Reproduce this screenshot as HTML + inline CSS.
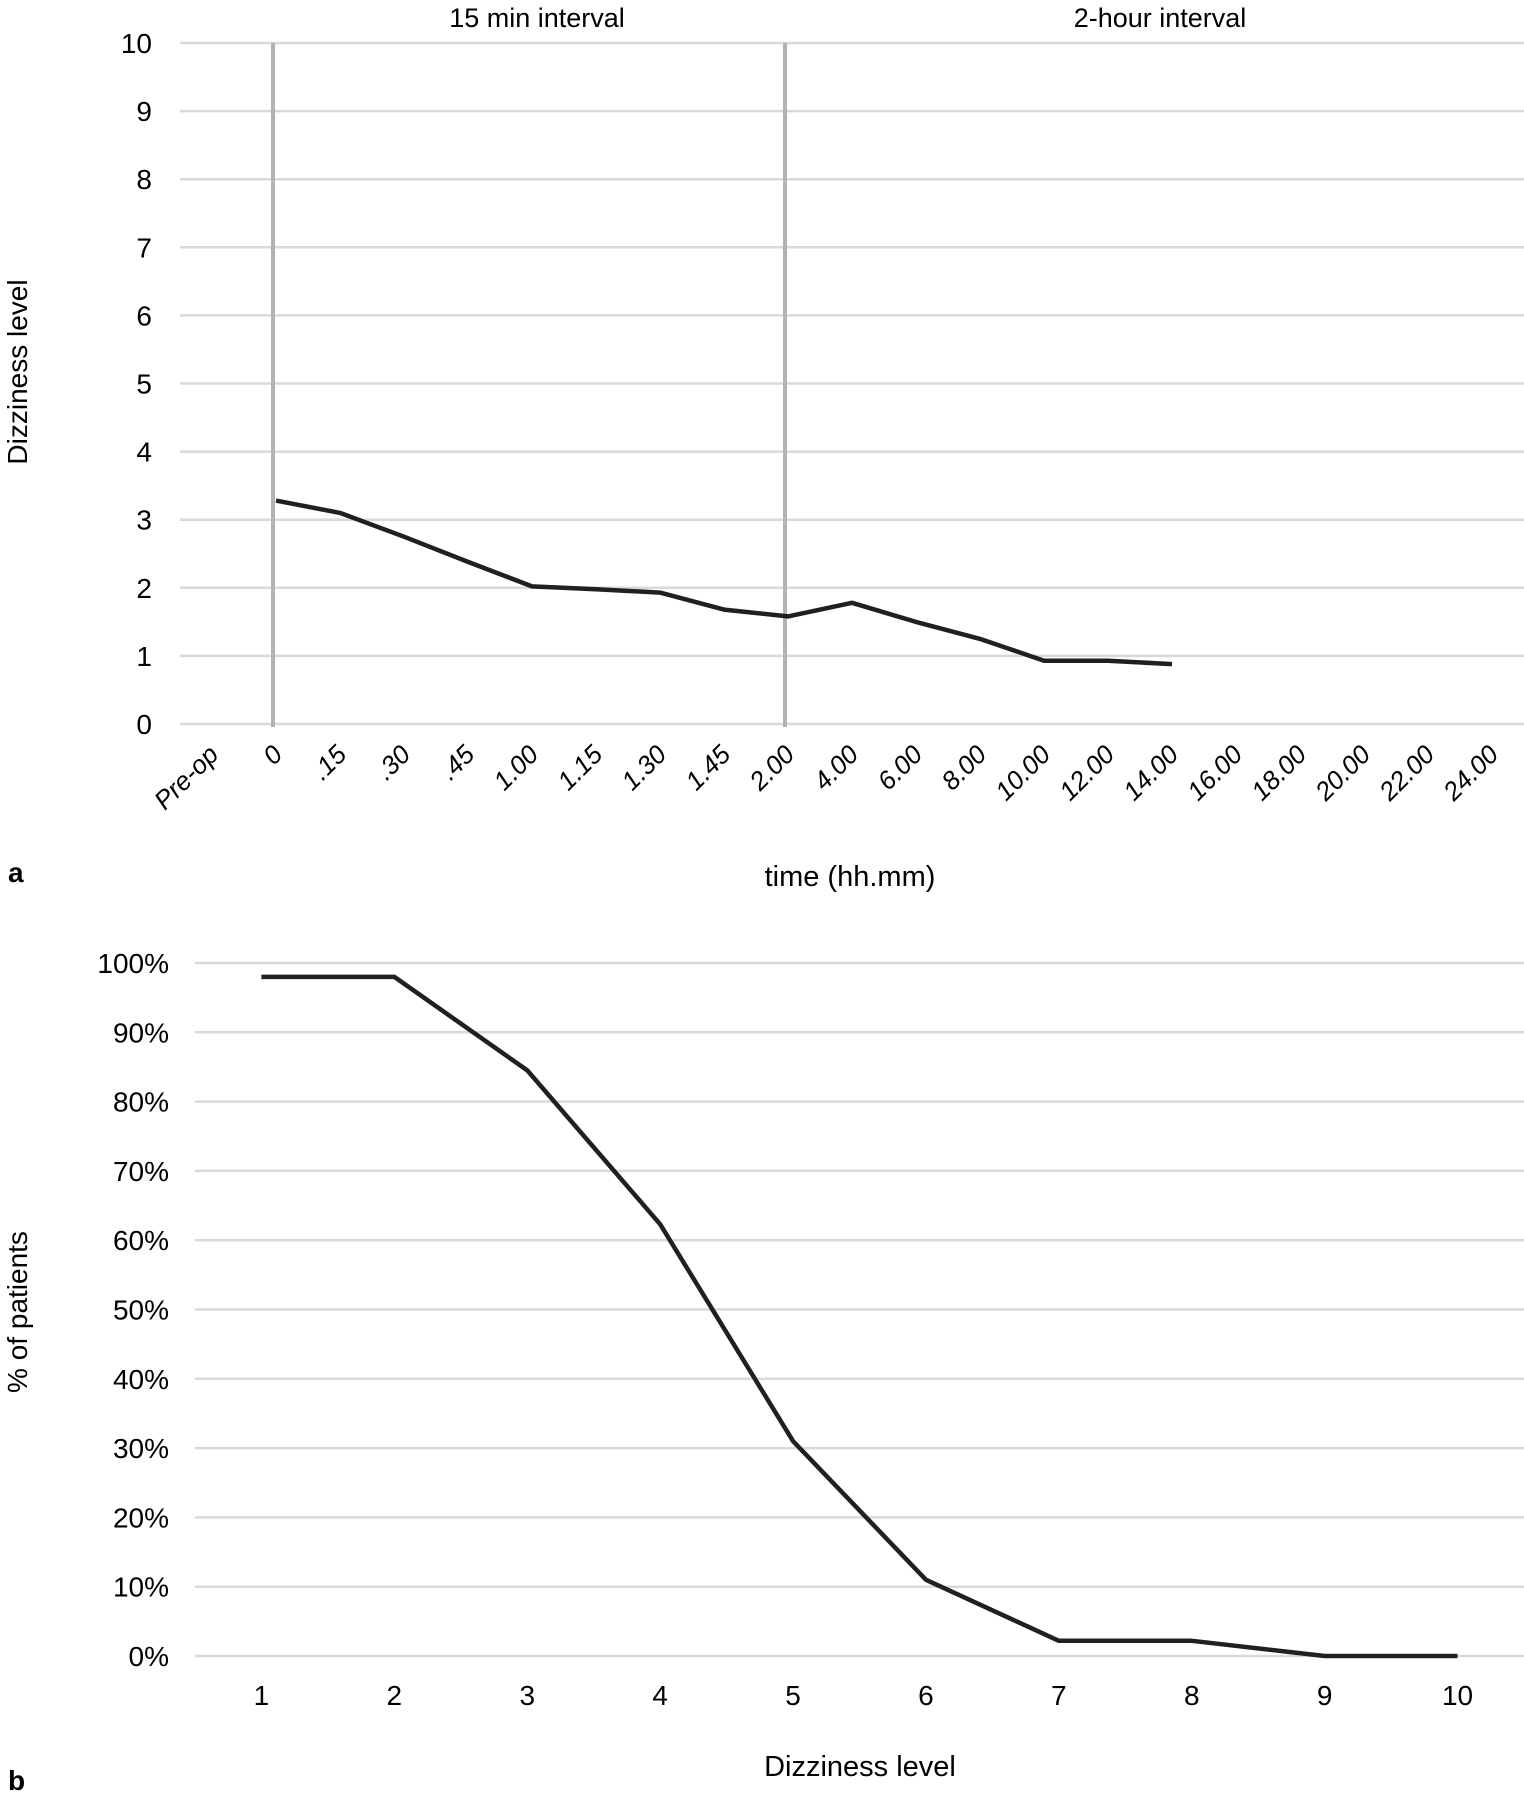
<!DOCTYPE html>
<html><head><meta charset="utf-8"><style>
html,body{margin:0;padding:0;background:#fff;}
svg{display:block;font-family:"Liberation Sans",sans-serif;}
</style></head><body>
<svg id="fig" width="1524" height="1794" viewBox="0 0 1524 1794" xmlns="http://www.w3.org/2000/svg">
<g id="chartA"></g>
<g id="chartB"></g>
<text x="8" y="882" font-size="28" font-weight="bold">a</text>
<text x="8" y="1790" font-size="28" font-weight="bold">b</text>
<text x="850" y="886" font-size="29" text-anchor="middle">time (hh.mm)</text>
<text x="860" y="1776" font-size="29" text-anchor="middle">Dizziness level</text>
<text transform="translate(27,372) rotate(-90)" font-size="28" text-anchor="middle">Dizziness level</text>
<text transform="translate(27,1312) rotate(-90)" font-size="28" text-anchor="middle">% of patients</text>
<text x="537" y="27" font-size="27" text-anchor="middle">15 min interval</text>
<text x="1160" y="27" font-size="27" text-anchor="middle">2-hour interval</text>
</svg>
<script>
const catsA = ["Pre-op","0",".15",".30",".45","1.00","1.15","1.30","1.45","2.00","4.00","6.00","8.00","10.00","12.00","14.00","16.00","18.00","20.00","22.00","24.00"];
const valsA = [null,3.28,3.1,2.75,2.38,2.02,1.98,1.93,1.68,1.58,1.78,1.5,1.25,0.93,0.93,0.88,null,null,null,null,null];
const ticksA = [0,1,2,3,4,5,6,7,8,9,10];
const dividersA = ["0","2.00"];
const catsB = ["1","2","3","4","5","6","7","8","9","10"];
const valsB = [98,98,84.5,62.3,31,11,2.2,2.2,0,0];
const ticksB = [0,10,20,30,40,50,60,70,80,90,100];

const NS="http://www.w3.org/2000/svg";
function mk(parent,tag,attrs,text){const e=document.createElementNS(NS,tag);for(const k in attrs)e.setAttribute(k,attrs[k]);if(text!==undefined)e.textContent=text;parent.appendChild(e);return e;}

// Chart A
(function(){
const g=document.getElementById('chartA');
const L=180,R=1524,T=43,B=724,ymax=10;
const bw=(R-L)/catsA.length;
const x=i=>L+bw*(i+0.5);
const y=v=>B-(v/ymax)*(B-T);
ticksA.forEach(t=>{
  const ln=mk(g,'line',{x1:L,x2:R,y1:y(t),y2:y(t),stroke:'#d9d9d9','stroke-width':2.5});
  
  
  const tx=mk(g,'text',{x:152,y:y(t)+10,'font-size':28,'text-anchor':'end'},String(t));
  
  
});
dividersA.forEach(c=>{
  const i=catsA.indexOf(c);
  const xx=x(i)-3;
  const ln=mk(g,'line',{x1:xx,x2:xx,y1:T,y2:B+3,stroke:'#b3b3b3','stroke-width':4});
  
  
});
catsA.forEach((c,i)=>{
  const tx=mk(g,'text',{transform:`translate(${x(i)+8},${B+32}) rotate(-45)`,'font-size':26,'text-anchor':'end','font-style':'italic'},c);
  
  
});
let d='';
valsA.forEach((v,i)=>{if(v===null)return;d+=(d?'L':'M')+x(i).toFixed(1)+' '+y(v).toFixed(1);});
const p=mk(g,'path',{d:d,fill:'none',stroke:'#231f20','stroke-width':4.5,'stroke-linejoin':'round'});


})();

// Chart B
(function(){
const g=document.getElementById('chartB');
const L=195,R=1524,T=963,B=1656,ymax=100;
const bw=(R-L)/catsB.length;
const x=i=>L+bw*(i+0.5);
const y=v=>B-(v/ymax)*(B-T);
ticksB.forEach(t=>{
  const ln=mk(g,'line',{x1:L,x2:R,y1:y(t),y2:y(t),stroke:'#d9d9d9','stroke-width':2.5});
  
  
  const tx=mk(g,'text',{x:169,y:y(t)+10,'font-size':28,'text-anchor':'end'},t+'%');
  
  
});
catsB.forEach((c,i)=>{
  const tx=mk(g,'text',{x:x(i),y:1705,'font-size':28,'text-anchor':'middle'},c);
  
  
});
let d='';
valsB.forEach((v,i)=>{d+=(i?'L':'M')+x(i).toFixed(1)+' '+y(v).toFixed(1);});
const p=mk(g,'path',{d:d,fill:'none',stroke:'#231f20','stroke-width':4.5,'stroke-linejoin':'round'});


})();
</script>
</body></html>
